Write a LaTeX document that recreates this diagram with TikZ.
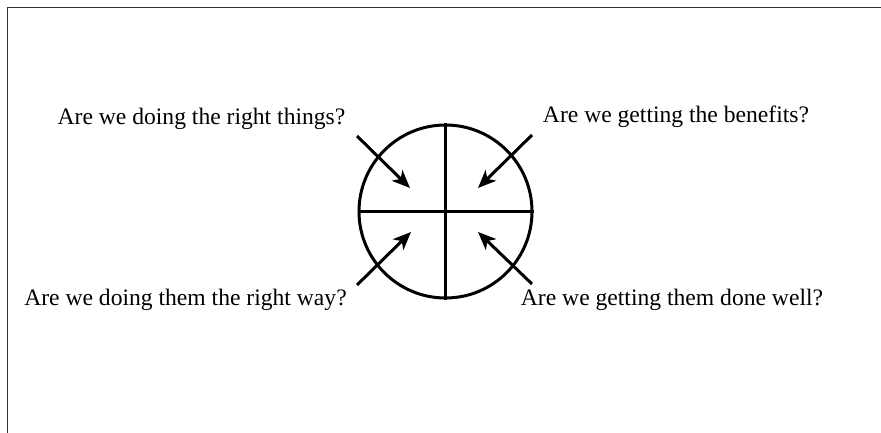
\documentclass[tikz,border=0pt]{standalone}
\usepackage{fontspec}
\setmainfont{Liberation Serif}
\usetikzlibrary{arrows.meta}
\begin{document}
\begin{tikzpicture}[x=1pt,y=-1pt,
  frameline/.style={draw=black!80,line width=1.6pt},
  wheel/.style={draw=black,line width=3pt},
  question/.style={font=\fontsize{23.6}{28}\selectfont,inner sep=0pt,anchor=base},
  pointer/.style={line width=3pt,-{Stealth[length=18pt,width=15pt,inset=5pt]}}]
\useasboundingbox (0,0) rectangle (881,433);
% partial frame
\coordinate (fc) at (7.5,7.5);
\coordinate (fr) at (881,7.5);
\coordinate (fb) at (7.5,433);
\draw[frameline] (fr) -- (fc) -- (fb);
% wheel
\coordinate (c) at (445.5,211.5);
\node[circle,wheel,minimum size=173pt,inner sep=0pt] (w) at (c) {};
\draw[wheel] (w.north) -- (w.south);
\draw[wheel] (w.west) -- (w.east);
% questions
\node[question] (q1) at (201.5,125) {Are we doing the right things?};
\node[question] (q2) at (676,123) {Are we getting the benefits?};
\node[question] (q3) at (185.5,305) {Are we doing them the right way?};
\node[question] (q4) at (672,305) {Are we getting them done well?};
% arrows
\coordinate (a1s) at (357,136); \coordinate (a1e) at (410,188);
\coordinate (a2s) at (532,135); \coordinate (a2e) at (478,188);
\coordinate (a3s) at (357,285); \coordinate (a3e) at (411,232);
\coordinate (a4s) at (532,284); \coordinate (a4e) at (478,232);
\draw[pointer] (a1s) -- (a1e);
\draw[pointer] (a2s) -- (a2e);
\draw[pointer] (a3s) -- (a3e);
\draw[pointer] (a4s) -- (a4e);
\end{tikzpicture}
\end{document}
